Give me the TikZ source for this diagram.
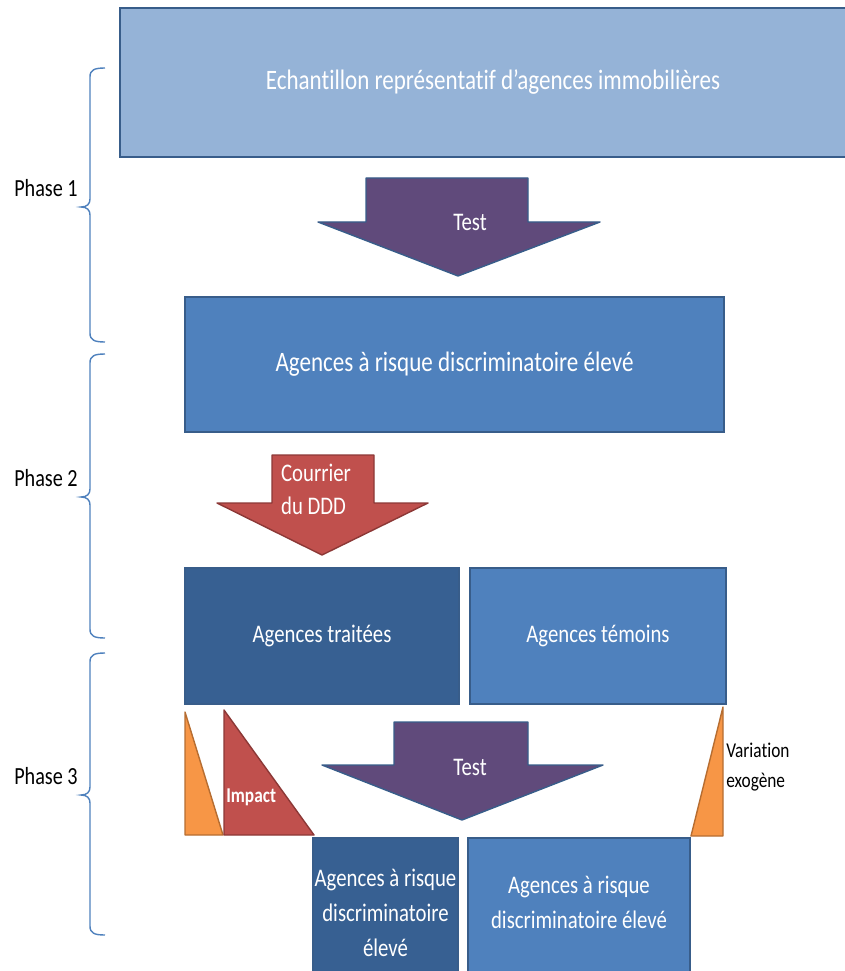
\documentclass[tikz,border=0pt]{standalone}
\usepackage{fontspec}
\setmainfont{Carlito}[FakeStretch=0.82, Ligatures=NoCommon]
\usetikzlibrary{positioning}

\definecolor{paleblue}{HTML}{95B3D7}
\definecolor{midblue}{HTML}{4F81BD}
\definecolor{deepblue}{HTML}{376092}
\definecolor{edgeblue}{HTML}{385D8A}
\definecolor{testpurple}{HTML}{604A7B}
\definecolor{mailred}{HTML}{C0504D}
\definecolor{edgered}{HTML}{8C3836}
\definecolor{exoorange}{HTML}{F79646}
\definecolor{edgeorange}{HTML}{B66D31}

\tikzset{
  box/.style={rectangle, draw=edgeblue, line width=1.2pt, text=white, align=center, inner sep=0pt, font=\fontsize{18}{25}\selectfont},
  bigbox/.style={box, font=\fontsize{20}{24}\selectfont},
  shapeline/.style={line width=1pt, line join=round},
  arrowtext/.style={text=white, inner sep=0pt, align=left, font=\fontsize{18}{23.5}\selectfont},
  phaselabel/.style={inner sep=0pt, anchor=south east, font=\fontsize{17.5}{20}\selectfont},
  bracepath/.style={draw=midblue, line width=1pt}
}

% left brace, #1 tip name, #2 top, #3 tip, #4 bottom (pixels)
\newcommand{\phasebrace}[4]{%
  \draw[bracepath] (105,#2) .. controls (94,#2) and (90,{#2+2}) .. (90,{#2+9})
    -- (90,{#3-8}) .. controls (90,{#3-3}) and (87,#3) .. (81,#3)
    .. controls (87,#3) and (90,{#3+3}) .. (90,{#3+8})
    -- (90,{#4-9}) .. controls (90,{#4-2}) and (94,#4) .. (105,#4);
  \coordinate (#1) at (81,#3);
}

\begin{document}
\begin{tikzpicture}[x=0.025cm, y=-0.025cm]
\useasboundingbox (0,0) rectangle (844,971);

% boxes
\node (sample) [bigbox, fill=paleblue, minimum width=18.65cm, minimum height=3.725cm] at (493,82.5) {Echantillon représentatif d’agences immobilières};
\node (risk) [bigbox, fill=midblue, minimum width=13.475cm, minimum height=3.375cm] at (454.5,364.5) {Agences à risque discriminatoire élevé};
\node (treated) [box, fill=deepblue, minimum width=6.85cm, minimum height=3.4cm] at (322,636) {Agences traitées};
\node (control) [box, fill=midblue, minimum width=6.4cm, minimum height=3.4cm] at (598,636) {Agences témoins};
\node (risktreated) [box, fill=deepblue, minimum width=3.625cm, minimum height=3.75cm] at (385.5,913) {Agences à risque\\discriminatoire\\élevé};
\node (riskcontrol) [box, fill=midblue, minimum width=5.55cm, minimum height=3.75cm] at (579,913) {Agences à risque\\discriminatoire élevé\\[-0.55em]\mbox{}};

% block arrows
\filldraw[shapeline, fill=testpurple, draw=edgeblue] (366,178) -- (528,178) -- (528,222) -- (600,222) -- (458,276) -- (318,222) -- (366,222) -- cycle;
\node (testone) [arrowtext] at (470,222) {Test};
\filldraw[shapeline, fill=mailred, draw=edgered] (272,455) -- (374,455) -- (374,503) -- (428,503) -- (322,555) -- (217,503) -- (272,503) -- cycle;
\node (mail) [arrowtext] at (316,489) {Courrier\\du DDD};
\filldraw[shapeline, fill=testpurple, draw=edgeblue] (394,722) -- (528,722) -- (528,765) -- (603,765) -- (462,820) -- (322,765) -- (394,765) -- cycle;
\node (testtwo) [arrowtext] at (470,767) {Test};

% triangles
\filldraw[shapeline, fill=exoorange, draw=edgeorange] (185,712) -- (185,835) -- (223,835) -- cycle;
\filldraw[shapeline, fill=mailred, draw=edgered] (224,710) -- (224,835) -- (314,835) -- cycle;
\node (impact) [inner sep=0pt, anchor=west, text=white, font=\fontsize{15}{18}\bfseries] at (226,797) {Impact};
\filldraw[shapeline, fill=exoorange, draw=edgeorange] (723,707) -- (691,836) -- (723,836) -- cycle;
\node (exo) [inner sep=0pt, anchor=west, align=left, font=\fontsize{15}{21}\selectfont] at (726,767) {Variation\\exogène};

% phases
\phasebrace{tipone}{68}{207}{342}
\phasebrace{tiptwo}{354}{497}{638}
\phasebrace{tipthree}{653}{795}{935}
\node (phaseone) [phaselabel] at ([shift={(-3,-10)}]tipone) {Phase 1};
\node (phasetwo) [phaselabel] at ([shift={(-3,-10)}]tiptwo) {Phase 2};
\node (phasethree) [phaselabel] at ([shift={(-3,-10)}]tipthree) {Phase 3};
\end{tikzpicture}
\end{document}
